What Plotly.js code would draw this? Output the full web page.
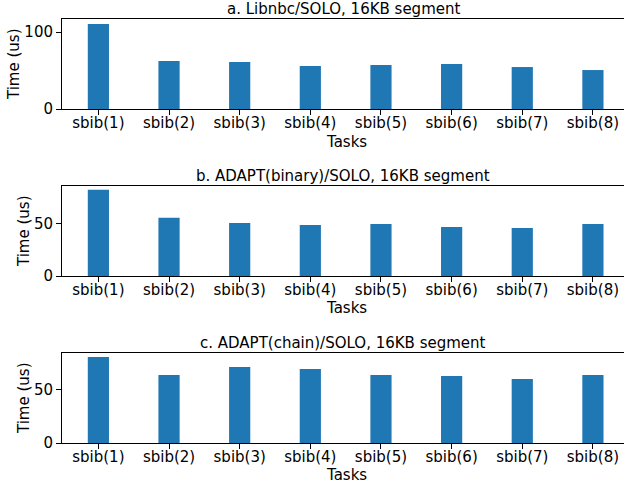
<!DOCTYPE html>
<html>
<head>
<meta charset="utf-8">
<script src="https://cdn.plot.ly/plotly-3.0.1.min.js"></script>
<style>html,body{margin:0;padding:0;background:#fff;}#chart{width:624px;height:486px;}</style>
</head>
<body>
<div id="chart"></div>
<script>
const tasks = ["sbib(1)","sbib(2)","sbib(3)","sbib(4)","sbib(5)","sbib(6)","sbib(7)","sbib(8)"];
const libnbc = [110.4, 62.3, 61.0, 55.8, 57.1, 58.4, 54.5, 50.6];
const adaptBinary = [81.7, 55.1, 50.3, 48.4, 49.4, 46.5, 45.6, 49.4];
const adaptChain = [80.1, 63.4, 70.8, 69.0, 63.4, 62.4, 59.6, 63.4];
const panelTitles = ["a. Libnbc/SOLO, 16KB segment", "b. ADAPT(binary)/SOLO, 16KB segment", "c. ADAPT(chain)/SOLO, 16KB segment"];
const series = [libnbc, adaptBinary, adaptChain];

const H = 486;
const font = {family: "DejaVu Sans", size: 15, color: "#000"};
const panels = [
  {top: 19, bottom: 109, ymax: 116.9, dtick: 100, titleY: 9, tasksY: 141.5, ytX: 14},
  {top: 186, bottom: 276, ymax: 85.3, dtick: 50, titleY: 176, tasksY: 308, ytX: 24},
  {top: 353, bottom: 443, ymax: 83.9, dtick: 50, titleY: 342.5, tasksY: 475, ytX: 24}
];

const data = [];
const layout = {
  width: 624, height: 486,
  margin: {l: 62, r: 0, t: 0, b: 0, pad: 0},
  paper_bgcolor: "#fff", plot_bgcolor: "#fff",
  showlegend: false,
  font: font,
  annotations: []
};

panels.forEach((p, i) => {
  const n = i === 0 ? "" : String(i + 1);
  data.push({
    type: "bar", x: tasks, y: series[i],
    xaxis: "x" + n, yaxis: "y" + n,
    width: 0.3,
    marker: {color: "#1f77b4", line: {width: 0}},
    hoverinfo: "skip"
  });
  const ydom = [1 - p.bottom / H, 1 - p.top / H];
  layout["xaxis" + n] = {
    domain: [0, 1], anchor: "y" + n,
    type: "category", range: [-0.515, 7.44],
    showgrid: false, zeroline: false,
    showline: true, linecolor: "#000", linewidth: 1, mirror: true,
    ticks: "outside", ticklen: 5, tickwidth: 1, tickcolor: "#000",
    ticklabelstandoff: -5,
    tickfont: font, fixedrange: true
  };
  layout["yaxis" + n] = {
    domain: ydom, anchor: "x" + n,
    range: [0, p.ymax], dtick: p.dtick, tick0: 0,
    showgrid: false, zeroline: false,
    showline: true, linecolor: "#000", linewidth: 1, mirror: false,
    ticks: "outside", ticklen: 5, tickwidth: 1, tickcolor: "#000",
    tickfont: font, fixedrange: true
  };
  layout.annotations.push({
    text: panelTitles[i], xref: "paper", yref: "paper",
    x: 0.5, y: 1 - p.titleY / H, xanchor: "center", yanchor: "middle",
    showarrow: false, font: font
  });
  layout.annotations.push({
    text: "Tasks", xref: "paper", yref: "paper",
    x: 0.5 + 3 / 562, y: 1 - p.tasksY / H, xanchor: "center", yanchor: "middle",
    showarrow: false, font: font
  });
  layout.annotations.push({
    text: "Time (us)", xref: "paper", yref: "paper",
    x: (p.ytX - 62) / 562, y: 1 - ((p.top + p.bottom) / 2) / H,
    xanchor: "center", yanchor: "middle", textangle: -90,
    showarrow: false, font: font
  });
});

Plotly.newPlot("chart", data, layout, {displayModeBar: false, staticPlot: true});
</script>
</body>
</html>
